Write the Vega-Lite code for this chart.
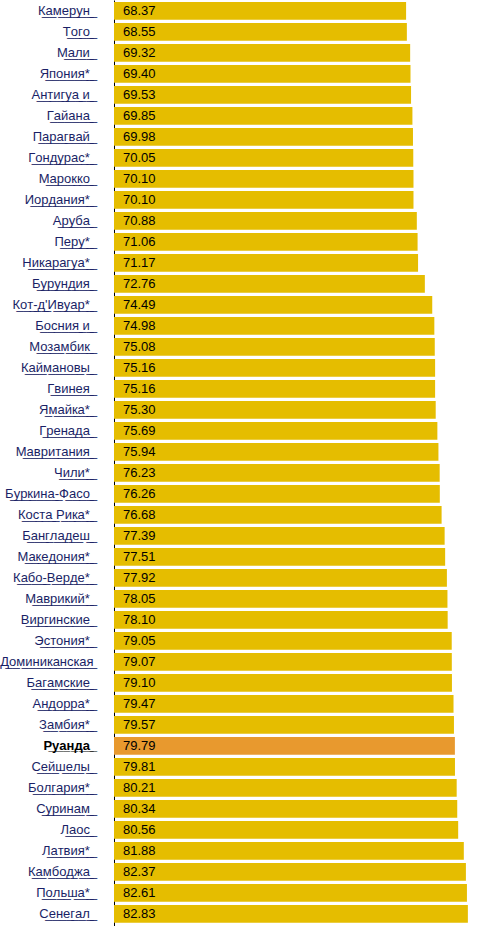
{
  "$schema": "https://vega.github.io/schema/vega-lite/v6.json",
  "width": 364,
  "height": 926,
  "autosize": {"type": "none"},
  "padding": {"left": 114, "top": 0, "right": 0, "bottom": 0},
  "background": "white",
  "config": {"view": {"stroke": null}, "font": "Liberation Sans"},
  "data": {"values": [
    {"country": "Камерун", "value": 68.37},
    {"country": "Того", "value": 68.55},
    {"country": "Мали", "value": 69.32},
    {"country": "Япония*", "value": 69.40},
    {"country": "Антигуа и", "value": 69.53},
    {"country": "Гайана", "value": 69.85},
    {"country": "Парагвай", "value": 69.98},
    {"country": "Гондурас*", "value": 70.05},
    {"country": "Марокко", "value": 70.10},
    {"country": "Иордания*", "value": 70.10},
    {"country": "Аруба", "value": 70.88},
    {"country": "Перу*", "value": 71.06},
    {"country": "Никарагуа*", "value": 71.17},
    {"country": "Бурундия", "value": 72.76},
    {"country": "Кот-д'Ивуар*", "value": 74.49},
    {"country": "Босния и", "value": 74.98},
    {"country": "Мозамбик", "value": 75.08},
    {"country": "Каймановы", "value": 75.16},
    {"country": "Гвинея", "value": 75.16},
    {"country": "Ямайка*", "value": 75.30},
    {"country": "Гренада", "value": 75.69},
    {"country": "Мавритания", "value": 75.94},
    {"country": "Чили*", "value": 76.23},
    {"country": "Буркина-Фасо", "value": 76.26},
    {"country": "Коста Рика*", "value": 76.68},
    {"country": "Бангладеш", "value": 77.39},
    {"country": "Македония*", "value": 77.51},
    {"country": "Кабо-Верде*", "value": 77.92},
    {"country": "Маврикий*", "value": 78.05},
    {"country": "Виргинские", "value": 78.10},
    {"country": "Эстония*", "value": 79.05},
    {"country": "Доминиканская", "value": 79.07},
    {"country": "Багамские", "value": 79.10},
    {"country": "Андорра*", "value": 79.47},
    {"country": "Замбия*", "value": 79.57},
    {"country": "Руанда", "value": 79.79},
    {"country": "Сейшелы", "value": 79.81},
    {"country": "Болгария*", "value": 80.21},
    {"country": "Суринам", "value": 80.34},
    {"country": "Лаос", "value": 80.56},
    {"country": "Латвия*", "value": 81.88},
    {"country": "Камбоджа", "value": 82.37},
    {"country": "Польша*", "value": 82.61},
    {"country": "Сенегал", "value": 82.83}
  ]},
  "encoding": {
    "y": {
      "field": "country", "type": "nominal", "sort": null,
      "scale": {"paddingInner": 0.16, "paddingOuter": 0.126, "align": 0.38},
      "axis": {
        "title": null, "ticks": false, "tickSize": 0, "grid": false,
        "domain": true, "domainColor": "#000000", "domainWidth": 1,
        "labelPadding": 21, "labelFontSize": 13, "labelFont": "Liberation Sans",
        "labelLimit": 200,
        "labelExpr": "replace(datum.label === 'Доминиканская' ? datum.label : datum.label + '\u00a0', regexp('(.)', 'g'), '$1\u0332')",
        "labelColor": {"condition": {"test": "datum.value === 'Руанда'", "value": "#000000"}, "value": "#1a1f66"},
        "labelFontWeight": {"condition": {"test": "datum.value === 'Руанда'", "value": "bold"}, "value": "normal"}
      }
    }
  },
  "layer": [
    {
      "mark": {"type": "bar"},
      "encoding": {
        "x": {"field": "value", "type": "quantitative", "scale": {"domain": [0, 85.2], "nice": false, "zero": true}, "axis": null},
        "color": {
          "condition": {"test": "datum.country === 'Руанда'", "value": "#E8992E"},
          "value": "#E5BD00"
        }
      }
    },
    {
      "mark": {"type": "text", "align": "left", "baseline": "middle", "dx": 9, "fontSize": 13, "font": "Liberation Sans", "color": "#000000"},
      "encoding": {
        "x": {"datum": 0, "type": "quantitative"},
        "text": {"field": "value", "type": "quantitative", "format": ".2f"}
      }
    }
  ]
}
